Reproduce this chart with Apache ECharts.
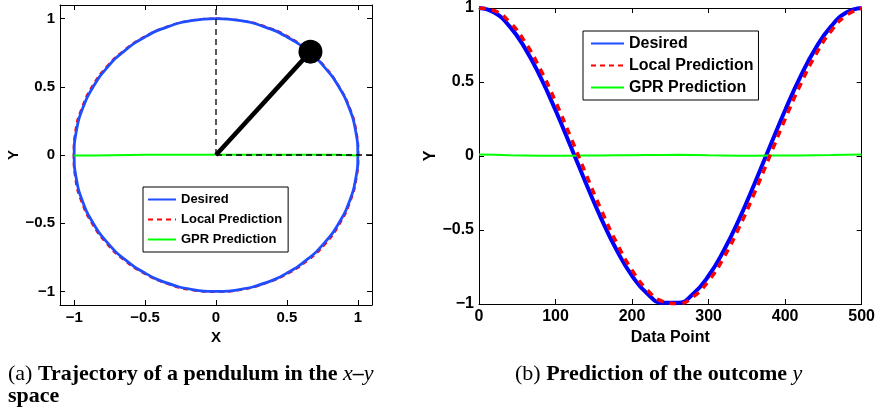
<!DOCTYPE html>
<html><head><meta charset="utf-8">
<script src="https://cdn.jsdelivr.net/npm/echarts@6/dist/echarts.min.js"></script>
<style>html,body{margin:0;padding:0;background:#fff}#c{width:878px;height:411px}</style>
</head><body><div id="c"></div>
<script>
// ---- (a) trajectory in x-y space ----
const circleX = [0,0.174,0.342,0.5,0.643,0.766,0.866,0.94,0.985,1,0.985,0.94,0.866,0.766,0.643,0.5,0.342,0.174,0,-0.174,-0.342,-0.5,-0.643,-0.766,-0.866,-0.94,-0.985,-1,-0.985,-0.94,-0.866,-0.766,-0.643,-0.5,-0.342,-0.174,0];
const circleY = [1,0.985,0.94,0.866,0.766,0.643,0.5,0.342,0.174,0,-0.174,-0.342,-0.5,-0.643,-0.766,-0.866,-0.94,-0.985,-1,-0.985,-0.94,-0.866,-0.766,-0.643,-0.5,-0.342,-0.174,0,0.174,0.342,0.5,0.643,0.766,0.866,0.94,0.985,1];
const localX = [0,0.176,0.346,0.505,0.647,0.77,0.869,0.945,0.99,1.004,0.99,0.946,0.873,0.774,0.65,0.504,0.343,0.173,-0.002,-0.176,-0.345,-0.504,-0.649,-0.774,-0.874,-0.948,-0.992,-1.004,-0.992,-0.947,-0.873,-0.772,-0.647,-0.503,-0.344,-0.175,0];
const localY = [1.002,0.987,0.944,0.871,0.77,0.647,0.502,0.343,0.174,-0.002,-0.176,-0.346,-0.505,-0.649,-0.772,-0.872,-0.944,-0.99,-1.004,-0.99,-0.945,-0.871,-0.771,-0.648,-0.504,-0.345,-0.176,0.001,0.176,0.345,0.505,0.648,0.77,0.869,0.943,0.987,1.002];
const gprX = [-1,-0.85,-0.85,-0.5,0,0.5,0.85,0.85,1];
const gprY = [-0.004,-0.004,0.0,0.002,0.002,0.002,0.002,-0.003,-0.003];
const rodX = [0,0.666];
const rodY = [0,0.758];
const vertDashX = [0,0];
const vertDashY = [0,1.1];
const horizDashX = [0,1.13];
const horizDashY = [0,0];
const leftTicks = [-1,-0.5,0,0.5,1];

// ---- (b) prediction of y ----
const dataPoint = [0,20,40,60,80,100,120,140,160,180,200,220,240,260,280,300,320,340,360,380,400,420,440,460,480,500];
const desiredOut = [1,0.969,0.876,0.729,0.536,0.309,0.063,-0.187,-0.426,-0.637,-0.809,-0.93,-0.992,-0.992,-0.93,-0.809,-0.637,-0.426,-0.187,0.063,0.309,0.536,0.729,0.876,0.969,1];
const localOut = [1,0.982,0.905,0.771,0.588,0.368,0.125,-0.125,-0.368,-0.588,-0.771,-0.905,-0.982,-0.998,-0.951,-0.844,-0.685,-0.482,-0.249,0,0.249,0.482,0.685,0.844,0.951,0.998];
const gprOut = [0.01,0.008,0.005,0.004,0.002,0.002,0.002,0.003,0.004,0.005,0.005,0.006,0.007,0.008,0.007,0.005,0.004,0.002,0.002,0.003,0.003,0.004,0.005,0.006,0.008,0.01];
const rightXTicks = [0,100,200,300,400,500];
const rightYTicks = [-1,-0.5,0,0.5,1];

const seriesNames = ['Desired','Local Prediction','GPR Prediction'];
const BLUE = '#0000ff', LBLUE = '#1f4dff', RED = '#ff0000', GREEN = '#00ff00';

const zip = (a,b) => a.map((v,i)=>[v,b[i]]);
const fmt = v => (v < 0 ? '\u2212' + Math.abs(v) : String(v));

function boxAxis(gridIndex, min, max, ticks, fs, withLabels, pos, name, nameGap){
  const ax = {
    type:'value', gridIndex, min, max, position: pos,
    axisLine:{show:true, onZero:false, lineStyle:{color:'#000', width:1}},
    axisTick:{show:true, inside:true, length:5, lineStyle:{color:'#000'}, customValues: ticks},
    splitLine:{show:false},
    axisLabel:{show:withLabels, customValues: ticks, formatter: fmt, color:'#000', fontFamily:'Liberation Sans', fontWeight:'bold', fontSize:fs, margin:5}
  };
  if (name){
    ax.name = name; ax.nameLocation = 'middle'; ax.nameGap = nameGap;
    ax.nameTextStyle = {color:'#000', fontFamily:'Liberation Sans', fontWeight:'bold', fontSize:fs};
  }
  return ax;
}

const capRich = {
  r:{fontFamily:'Liberation Serif', fontSize:22, fill:'#000', lineHeight:22},
  b:{fontFamily:'Liberation Serif', fontWeight:'bold', fontSize:22, fill:'#000', lineHeight:22},
  i:{fontFamily:'Liberation Serif', fontStyle:'italic', fontSize:22, fill:'#000', lineHeight:22}
};

const chart = echarts.init(document.getElementById('c'), null, {renderer:'canvas'});
chart.setOption({
  animation:false,
  backgroundColor:'#fff',
  grid:[
    {left:60, top:5, width:312, height:300},
    {left:479, top:3, width:383, height:301}
  ],
  xAxis:[
    boxAxis(0,-1.1,1.1,leftTicks,15,true,'bottom','X',13),
    boxAxis(0,-1.1,1.1,leftTicks,15,false,'top'),
    boxAxis(1,0,500,rightXTicks,16,true,'bottom','Data Point',17),
    boxAxis(1,0,500,rightXTicks,16,false,'top')
  ],
  yAxis:[
    boxAxis(0,-1.1,1.1,leftTicks,15,true,'left','Y',31),
    boxAxis(0,-1.1,1.1,leftTicks,15,false,'right'),
    boxAxis(1,-1,1,rightYTicks,16,true,'left','Y',40),
    boxAxis(1,-1,1,rightYTicks,16,false,'right')
  ],
  legend:[
    {data:seriesNames, left:143, top:187, orient:'vertical', itemWidth:28, itemHeight:14, itemGap:7,
     padding:[6,6,6,4], borderColor:'#000', borderWidth:1, borderRadius:0, backgroundColor:'#fff', selectedMode:false,
     itemStyle:{opacity:0},
     textStyle:{fontFamily:'Liberation Sans', fontWeight:'bold', fontSize:13, color:'#000'}},
    {data:seriesNames, left:583, top:31, orient:'vertical', itemWidth:33, itemHeight:16, itemGap:6,
     padding:[4.5,5,4.5,7], borderColor:'#000', borderWidth:1, borderRadius:0, backgroundColor:'#fff', selectedMode:false,
     itemStyle:{opacity:0},
     textStyle:{fontFamily:'Liberation Sans', fontWeight:'bold', fontSize:16, color:'#000'}}
  ],
  series:[
    // left plot
    {name:'Local Prediction', type:'line', xAxisIndex:0, yAxisIndex:0, data:zip(localX,localY), smooth:true, symbol:'none',
     lineStyle:{color:RED, width:2, type:[5,4]}, itemStyle:{color:RED}, z:2},
    {name:'Desired', type:'line', xAxisIndex:0, yAxisIndex:0, data:zip(circleX,circleY), smooth:true, symbol:'none',
     lineStyle:{color:LBLUE, width:2.8}, itemStyle:{color:LBLUE}, z:3},
    {name:'GPR Prediction', type:'line', xAxisIndex:0, yAxisIndex:0, data:zip(gprX,gprY), symbol:'none',
     lineStyle:{color:GREEN, width:2}, itemStyle:{color:GREEN}, z:4},
    {type:'line', xAxisIndex:0, yAxisIndex:0, data:zip(vertDashX,vertDashY), symbol:'none', clip:false,
     lineStyle:{color:'#000', width:1.3, type:[6,4]}, z:5, silent:true},
    {type:'line', xAxisIndex:0, yAxisIndex:0, data:zip(horizDashX,horizDashY), symbol:'none', clip:false,
     lineStyle:{color:'#000', width:1.3, type:[6,4]}, z:5, silent:true},
    {type:'line', xAxisIndex:0, yAxisIndex:0, data:zip(rodX,rodY), symbol:'none',
     lineStyle:{color:'#000', width:4.5}, z:6, silent:true},
    {type:'scatter', xAxisIndex:0, yAxisIndex:0, data:[[rodX[1],rodY[1]]], symbol:'circle', symbolSize:24,
     itemStyle:{color:'#000', opacity:1}, z:7, silent:true},
    // right plot
    {name:'Desired', type:'line', xAxisIndex:2, yAxisIndex:2, data:zip(dataPoint,desiredOut), smooth:true, symbol:'none',
     lineStyle:{color:BLUE, width:4}, itemStyle:{color:BLUE}, z:2},
    {name:'GPR Prediction', type:'line', xAxisIndex:2, yAxisIndex:2, data:zip(dataPoint,gprOut), symbol:'none',
     lineStyle:{color:GREEN, width:2}, itemStyle:{color:GREEN}, z:3},
    {name:'Local Prediction', type:'line', xAxisIndex:2, yAxisIndex:2, data:zip(dataPoint,localOut), smooth:true, symbol:'none',
     lineStyle:{color:RED, width:3.5, type:[7,6]}, itemStyle:{color:RED}, z:4}
  ],
  graphic:[
    {type:'text', left:8, top:363, style:{
      text:'{r|(a) }{b|Trajectory of a pendulum in the }{i|x}{b|\u2013}{i|y}\n{b|space}',
      rich:capRich}},
    {type:'text', left:515, top:363, style:{
      text:'{r|(b) }{b|Prediction of the outcome }{i|y}',
      rich:capRich}}
  ]
});
</script></body></html>
